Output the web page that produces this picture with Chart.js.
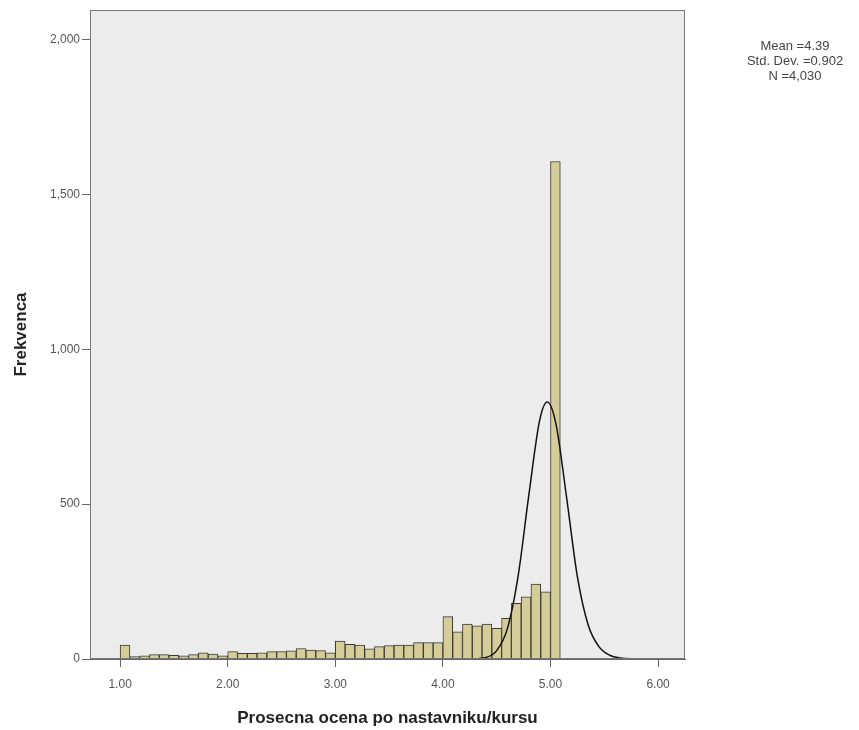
<!DOCTYPE html>
<html>
<head>
<meta charset="utf-8">
<script src="https://cdn.jsdelivr.net/npm/chart.js@4/dist/chart.umd.min.js"></script>
<style>
  html, body { margin: 0; padding: 0; background: #fff; }
  #wrap { position: relative; width: 859px; height: 730px; }
  #stats {
    position: absolute; left: 725px; top: 38px; width: 140px;
    text-align: center; font: 13px 'Liberation Sans', Arial, sans-serif;
    color: #444; line-height: 15px;
  }
</style>
</head>
<body>
<div id="wrap">
  <canvas id="hist" width="859" height="730"></canvas>
  <div id="stats">Mean =4.39<br>Std. Dev. =0.902<br>N =4,030</div>
</div>
<script>
Chart.defaults.font.family = "'Liberation Sans', Arial, sans-serif";
Chart.defaults.color = '#555';

// histogram bins: 45 bins of width 4/44 starting at 1.00
const binStart = 1.0;
const binWidth = 4 / 44;
const counts = [
  45, 8, 10, 14, 14, 12, 10, 14, 20, 16, 10,
  24, 18, 18, 20, 24, 24, 26, 34, 29, 27, 20,
  58, 47, 45, 33, 40, 43, 45, 45, 53, 53, 53,
  137, 88, 113, 107, 113, 99, 131, 180, 201, 242, 217,
  1606
];

// normal curve as drawn in the picture
const curveX = [4.25, 4.40, 4.50, 4.60, 4.70, 4.80, 4.90, 4.97, 5.05, 5.15, 5.25, 5.35, 5.45, 5.55, 5.65, 5.80];
const curveY = [0, 5, 27, 99, 270, 533, 772, 830, 760, 520, 265, 110, 40, 12, 3, 0];

const yTicks = [0, 500, 1000, 1500, 2000];
const xTicks = [1, 2, 3, 4, 5, 6];

const barData = counts.map((c, i) => ({ x: binStart + (i + 0.5) * binWidth, y: c }));
const lineData = curveX.map((x, i) => ({ x: x, y: curveY[i] }));

const frame = {
  id: 'frame',
  beforeDraw(chart) {
    const { ctx, chartArea: a } = chart;
    ctx.save();
    ctx.fillStyle = '#ececec';
    ctx.fillRect(a.left, a.top, a.right - a.left, a.bottom - a.top);
    ctx.restore();
  },
  afterDraw(chart) {
    const { ctx, chartArea: a } = chart;
    ctx.save();
    ctx.strokeStyle = '#777';
    ctx.lineWidth = 1;
    ctx.strokeRect(a.left + 0.5, a.top + 0.5, a.right - a.left - 1, a.bottom - a.top - 1);
    ctx.restore();
  }
};

new Chart(document.getElementById('hist'), {
  type: 'bar',
  data: {
    datasets: [{
      type: 'bar',
      data: barData,
      backgroundColor: '#d4cd9a',
      borderColor: '#3d3c2c',
      borderWidth: 1,
      barPercentage: 1,
      categoryPercentage: 1,
      order: 2
    }, {
      type: 'line',
      data: lineData,
      borderColor: '#111',
      borderWidth: 1.5,
      pointRadius: 0,
      tension: 0.4,
      cubicInterpolationMode: 'monotone',
      order: 1
    }]
  },
  options: {
    responsive: false,
    animation: false,
    devicePixelRatio: 1,
    layout: { padding: { top: 10, right: 174, left: 0, bottom: 0 } },
    plugins: { legend: { display: false }, tooltip: { enabled: false } },
    scales: {
      x: {
        type: 'linear',
        min: 0.72,
        max: 6.25,
        offset: false,
        afterBuildTicks: s => { s.ticks = xTicks.map(v => ({ value: v })); },
        afterFit: s => { s.height = 71; },
        ticks: {
          callback: v => v.toFixed(2),
          font: { size: 12 },
          color: '#555',
          padding: 10,
          maxRotation: 0
        },
        grid: { drawOnChartArea: false, offset: false, tickLength: 8, color: '#666' },
        border: { color: '#666' },
        title: {
          display: true,
          text: 'Prosecna ocena po nastavniku/kursu',
          font: { size: 17, weight: 'bold' },
          color: '#222',
          padding: { top: 4, bottom: 1 }
        }
      },
      y: {
        min: 0,
        max: 2095,
        afterBuildTicks: s => { s.ticks = yTicks.map(v => ({ value: v })); },
        afterFit: s => { s.width = 90; },
        ticks: {
          callback: v => v.toLocaleString('en-US'),
          font: { size: 12 },
          color: '#555',
          padding: 2
        },
        grid: { drawOnChartArea: false, tickLength: 8, color: '#666' },
        border: { color: '#666' },
        title: {
          display: true,
          text: 'Frekvenca',
          font: { size: 17, weight: 'bold' },
          color: '#222',
          padding: { top: 11, bottom: 4 }
        }
      }
    }
  },
  plugins: [frame]
});
</script>
</body>
</html>
